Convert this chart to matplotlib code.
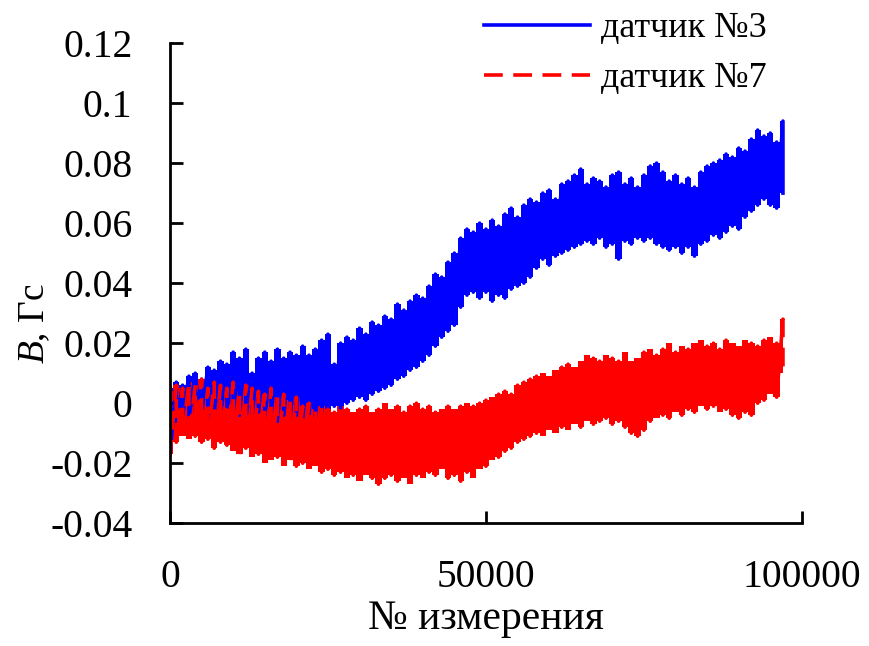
import numpy as np
import matplotlib
matplotlib.use('Agg')
import matplotlib.pyplot as plt

plt.rcParams['font.family'] = ['Liberation Serif', 'DejaVu Serif']
plt.rcParams['axes.unicode_minus'] = False
plt.rcParams['mathtext.fontset'] = 'custom'
plt.rcParams['mathtext.it'] = 'Liberation Serif:italic'

# номер измерения (шаг 1000)
meas_no = np.arange(0, 98000, 1000)

# датчик №3: верхняя и нижняя огибающая шума (оценка по картинке)
s3_upper = [0.005, 0.007, 0.006, 0.009, 0.010, 0.008, 0.012, 0.011, 0.014, 0.013,
            0.017, 0.015, 0.018, 0.010, 0.015, 0.017, 0.014, 0.018, 0.015, 0.017,
            0.016, 0.019, 0.016, 0.018, 0.021, 0.023, 0.013, 0.020, 0.022, 0.021,
            0.025, 0.023, 0.027, 0.026, 0.029, 0.028, 0.033, 0.031, 0.034, 0.036,
            0.035, 0.039, 0.043, 0.042, 0.047, 0.050, 0.055, 0.058, 0.057, 0.060,
            0.058, 0.061, 0.059, 0.063, 0.065, 0.062, 0.066, 0.068, 0.067, 0.070,
            0.071, 0.068, 0.073, 0.074, 0.076, 0.078, 0.073, 0.075, 0.074, 0.072,
            0.076, 0.077, 0.073, 0.075, 0.072, 0.076, 0.079, 0.080, 0.077, 0.074,
            0.076, 0.073, 0.075, 0.072, 0.077, 0.079, 0.080, 0.081, 0.083, 0.082,
            0.085, 0.084, 0.088, 0.091, 0.089, 0.090, 0.087, 0.094]
s3_lower = [-0.017, -0.006, -0.004, -0.005, -0.003, -0.004, -0.005, -0.003, -0.004, -0.005,
            -0.003, -0.004, -0.005, -0.004, -0.003, -0.005, -0.004, -0.006, -0.004, -0.005,
            -0.004, -0.005, -0.004, -0.005, -0.003, -0.002, -0.001, -0.002, 0.000, 0.001,
            0.002, 0.001, 0.003, 0.004, 0.005, 0.006, 0.008, 0.009, 0.011, 0.012,
            0.014, 0.016, 0.019, 0.022, 0.024, 0.026, 0.032, 0.036, 0.037, 0.035,
            0.037, 0.034, 0.036, 0.035, 0.038, 0.039, 0.040, 0.042, 0.045, 0.048,
            0.046, 0.049, 0.050, 0.051, 0.052, 0.053, 0.054, 0.053, 0.055, 0.052,
            0.053, 0.048, 0.054, 0.053, 0.055, 0.054, 0.055, 0.053, 0.052, 0.051,
            0.052, 0.050, 0.052, 0.049, 0.053, 0.054, 0.056, 0.055, 0.057, 0.059,
            0.058, 0.062, 0.064, 0.066, 0.068, 0.066, 0.065, 0.070]

# датчик №7
s7_upper = [0.004, 0.006, 0.005, 0.007, 0.006, 0.008, 0.005, 0.007, 0.006, 0.005,
            0.007, 0.004, 0.006, 0.005, 0.004, 0.003, 0.005, 0.002, 0.003, 0.001,
            0.002, -0.001, 0.000, -0.002, -0.001, -0.002, -0.003, -0.001, -0.002, -0.003,
            -0.002, -0.001, -0.003, -0.002, 0.000, -0.002, -0.001, -0.003, -0.001, 0.000,
            -0.002, -0.001, -0.003, -0.002, -0.001, -0.002, -0.001, 0.000, -0.001, 0.000,
            0.001, 0.002, 0.003, 0.004, 0.003, 0.006, 0.007, 0.008, 0.009, 0.010,
            0.009, 0.011, 0.012, 0.013, 0.012, 0.014, 0.016, 0.015, 0.014, 0.016,
            0.015, 0.014, 0.017, 0.014, 0.015, 0.017, 0.018, 0.016, 0.018, 0.020,
            0.017, 0.019, 0.018, 0.020, 0.021, 0.019, 0.020, 0.018, 0.021, 0.020,
            0.019, 0.021, 0.020, 0.019, 0.021, 0.022, 0.020, 0.028]
s7_lower = [-0.017, -0.013, -0.011, -0.012, -0.011, -0.013, -0.012, -0.015, -0.013, -0.014,
            -0.016, -0.017, -0.015, -0.018, -0.017, -0.020, -0.019, -0.018, -0.021, -0.019,
            -0.021, -0.020, -0.022, -0.021, -0.023, -0.022, -0.024, -0.023, -0.025, -0.024,
            -0.026, -0.024, -0.025, -0.027, -0.025, -0.024, -0.026, -0.025, -0.027, -0.024,
            -0.025, -0.023, -0.024, -0.022, -0.025, -0.024, -0.026, -0.023, -0.025, -0.022,
            -0.021, -0.019, -0.018, -0.016, -0.015, -0.013, -0.012, -0.011, -0.010, -0.011,
            -0.009, -0.010, -0.008, -0.009, -0.007, -0.008, -0.006, -0.007, -0.006, -0.005,
            -0.007, -0.006, -0.008, -0.010, -0.011, -0.009, -0.006, -0.005, -0.004, -0.005,
            -0.003, -0.004, -0.002, -0.003, -0.001, -0.002, -0.001, -0.003, -0.002, -0.004,
            -0.005, -0.003, -0.004, 0.000, 0.001, 0.003, 0.002, 0.010]

labels = ['датчик №3', 'датчик №7']
x_ticks = [0, 50000, 100000]
y_ticks = [-0.04, -0.02, 0, 0.02, 0.04, 0.06, 0.08, 0.1, 0.12]


def zigzag(upper, lower):
    # шум: на каждом шаге вертикальный штрих от верха к низу
    xs = np.repeat(meas_no, 2)
    ys = np.empty(2 * len(meas_no))
    ys[0::2] = upper
    ys[1::2] = lower
    return xs, ys


fig = plt.figure(figsize=(8.69, 6.46), dpi=100)
ax = fig.add_axes([0.1956, 0.190, 0.7272, 0.7434])

for up, lo, col, ls, lab in [(s3_upper, s3_lower, '#0000ff', '-', labels[0]),
                             (s7_upper, s7_lower, '#ff0000', (0, (5.2, 2.9)), labels[1])]:
    xs, ys = zigzag(up, lo)
    ax.fill_between(meas_no, lo, up, color=col, lw=0, step='mid')
    ax.plot(xs, ys, color=col, lw=2.6, ls=ls, label=lab)

ax.set_xlim(0, 100000)
ax.set_ylim(-0.04, 0.12)
ax.set_xticks(x_ticks)
ax.set_xticklabels([str(v) for v in x_ticks])
ax.set_yticks(y_ticks)
ax.set_yticklabels(['%g' % v for v in y_ticks])

for s in ['top', 'right']:
    ax.spines[s].set_visible(False)
for s in ['left', 'bottom']:
    ax.spines[s].set_linewidth(2)
ax.tick_params(axis='both', direction='in', length=9, width=2, labelsize=28.5)
ax.tick_params(axis='x', pad=26)
ax.tick_params(axis='y', pad=27)

ax.set_xlabel('№ измерения', fontsize=30, labelpad=2)
fig.text(35 / 869, 1 - 324 / 646, r'$\mathit{B}$, Гс', fontsize=27,
         rotation=90, ha='center', va='center')

ax.legend(loc='upper right', bbox_to_anchor=(767 / 869, 1 - 12 / 646),
          bbox_transform=fig.transFigure, frameon=False, fontsize=26,
          handlelength=2.96, handletextpad=0.3, labelspacing=0.46,
          borderaxespad=0, borderpad=0)

fig.savefig('out.png', dpi=100)
